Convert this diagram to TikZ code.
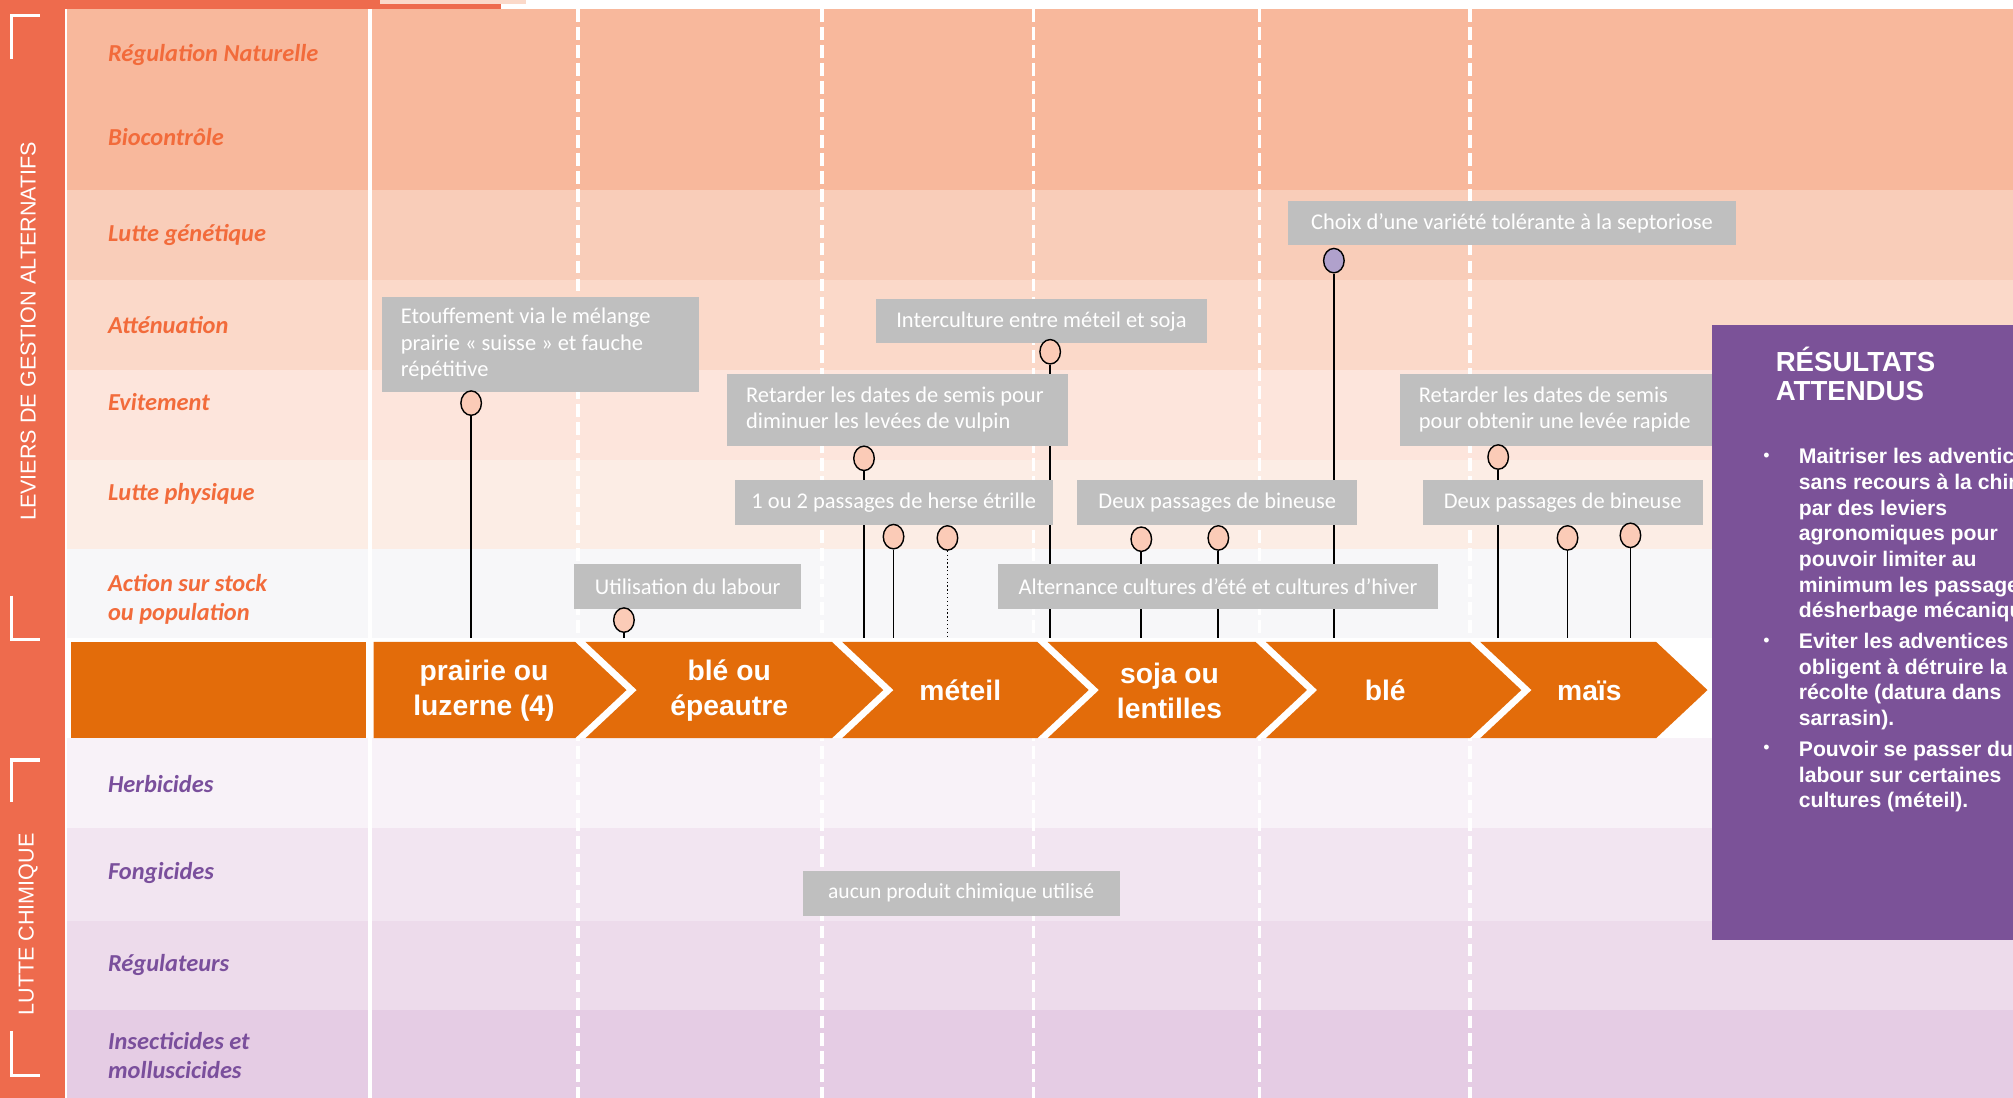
\documentclass[tikz,border=0pt]{standalone}
\usepackage{fontspec}
\setmainfont{Carlito}
\newfontfamily\arialfont{Liberation Sans}
\usetikzlibrary{shapes.geometric}

\definecolor{bandorange}{HTML}{EE6B4D}
\definecolor{chevorange}{HTML}{E36C0A}
\definecolor{labelorange}{HTML}{F26B3B}
\definecolor{labelpurple}{HTML}{7A4F9C}
\definecolor{respurple}{HTML}{7B5298}
\definecolor{boxgrey}{HTML}{BFBFBF}
\definecolor{pinpeach}{HTML}{FBCBB7}
\definecolor{pinlilac}{HTML}{B0A1CC}
\definecolor{rowA}{HTML}{F8B89C}
\definecolor{rowB}{HTML}{F9CDB9}
\definecolor{rowC}{HTML}{FBD9C9}
\definecolor{rowD}{HTML}{FDE5DC}
\definecolor{rowE}{HTML}{FCEDE5}
\definecolor{rowF}{HTML}{F7F7F9}
\definecolor{rowG}{HTML}{F8F2F8}
\definecolor{rowH}{HTML}{F2E5F1}
\definecolor{rowI}{HTML}{EDDBEB}
\definecolor{rowJ}{HTML}{E5CCE4}

\pgfdeclarelayer{back}
\pgfdeclarelayer{stems}
\pgfdeclarelayer{front}
\pgfsetlayers{back,stems,main,front}

\tikzset{
  rowlabel/.style={anchor=west, align=left, inner sep=0pt, font=\bfseries\itshape\fontsize{19}{23}\selectfont},
  sidelabel/.style={rotate=90, text=white, inner sep=0pt, font=\arialfont\fontsize{16.8}{18}\selectfont},
  bracket/.style={white, line width=2.5pt},
  sep/.style={white, line width=3pt},
  dsep/.style={white, line width=3pt, dash pattern=on 10pt off 4pt},
  chev/.style={fill=chevorange},
  croplabel/.style={text=white, align=center, inner sep=0pt, font=\arialfont\bfseries\fontsize{22}{27}\selectfont},
  greybox/.style={fill=boxgrey, text=white, anchor=north west, inner sep=0pt, font=\fontsize{17.5}{20.5}\selectfont},
  notebox/.style={greybox, inner xsep=15pt, align=flush left},
  pin/.style={ellipse, draw=black, line width=1.1pt, fill=pinpeach, minimum width=16pt, minimum height=19pt, inner sep=0pt},
  stem/.style={black, line width=1.4pt},
  restext/.style={text=white, anchor=north west, align=left, inner sep=0pt, font=\arialfont\bfseries\fontsize{16.5}{20}\selectfont},
}

\begin{document}
\begin{tikzpicture}[x=1pt, y=-1pt]
  \useasboundingbox (0,0) rectangle (1568,855);

  % Rows and columns
  \begin{pgfonlayer}{back}
    \foreach \ytop/\ybot/\col in {7/78/rowA, 78/148/rowA, 148/218/rowB, 218/288/rowC, 288/358/rowD, 358/428/rowE, 428/497/rowF, 575/645/rowG, 645/717/rowH, 717/787/rowI, 787/855/rowJ}
      \fill[\col] (52,\ytop) rectangle (1568,\ybot);
    \fill[bandorange] (0,0) rectangle (51,855);
    \fill[bandorange] (0,0) rectangle (390,7);
    \fill[rowC] (296,0) rectangle (410,3.5);
    \draw[sep] (288,7) -- (288,855);
    \foreach \x in {450,640,805,981,1145}
      \draw[dsep] (\x,7) -- (\x,855);
  \end{pgfonlayer}

  % Side labels and brackets
  \node[sidelabel] (leviers) at (22,258) {LEVIERS DE GESTION ALTERNATIFS};
  \node[sidelabel] (chimique) at (22,720) {LUTTE CHIMIQUE};
  \draw[bracket] (31,12) -- (9,12) -- (9,46);
  \draw[bracket] (9,464) -- (9,498) -- (31,498);
  \draw[bracket] (31,592) -- (9,592) -- (9,625);
  \draw[bracket] (9,803) -- (9,838) -- (31,838);

  % Row labels
  \foreach \y/\txt [count=\i] in {43/Régulation Naturelle, 107/Biocontrôle, 183/Lutte génétique, 253/Atténuation, 313/Evitement, 385/Lutte physique, 467/{Action sur stock\\ou population}}
    \node[rowlabel, text=labelorange] (lev\i) at (84,\y) {\txt};
  \foreach \y/\txt [count=\i] in {611/Herbicides, 680/Fongicides, 752/Régulateurs, 822/{Insecticides et\\molluscicides}}
    \node[rowlabel, text=labelpurple] (chim\i) at (84,\y) {\txt};

  % Crop sequence
  \fill[chev] (55,500) rectangle (285,575);
  \fill[chev] (291,500) -- (448,500) -- (488,537.5) -- (448,575) -- (291,575) -- cycle;
  \foreach \a/\b in {456/648, 656/808, 816/978, 986/1145, 1153/1290}
    \fill[chev] (\a,500) -- (\b,500) -- ({\b+40},537.5) -- (\b,575) -- (\a,575) -- ({\a+40},537.5) -- cycle;
  \foreach \x/\txt [count=\i] in {377/{prairie ou\\luzerne (4)}, 568/{blé ou\\épeautre}, 748/méteil, 911/{soja ou\\lentilles}, 1079/blé, 1238/maïs}
    \node[croplabel] (crop\i) at (\x,538) {\txt};
  \coordinate (base) at (0,497);

  % Levers
  \node[notebox, text width=217pt, minimum height=74pt] (etouf) at (297,231) {Etouffement via le mélange\\prairie « suisse » et fauche\\répétitive};
  \node[greybox, minimum width=258pt, minimum height=34pt] (interc) at (682,233) {Interculture entre méteil et soja};
  \node[notebox, text width=236pt, minimum height=56pt] (retard1) at (566,291) {Retarder les dates de semis pour\\diminuer les levées de vulpin};
  \node[greybox, minimum width=349pt, minimum height=35pt] (choix) at (1003,156) {Choix d’une variété tolérante à la septoriose};
  \node[notebox, text width=213pt, minimum height=56pt] (retard2) at (1090,291) {Retarder les dates de semis\\pour obtenir une levée rapide};
  \node[greybox, minimum width=248pt, minimum height=35pt] (herse) at (572,374) {1 ou 2 passages de herse étrille};
  \node[greybox, minimum width=218pt, minimum height=35pt] (bin1) at (839,374) {Deux passages de bineuse};
  \node[greybox, minimum width=218pt, minimum height=35pt] (bin2) at (1108,374) {Deux passages de bineuse};
  \node[greybox, minimum width=177pt, minimum height=35pt] (labour) at (447,439) {Utilisation du labour};
  \node[greybox, minimum width=343pt, minimum height=35pt] (altern) at (777,439) {Alternance cultures d’été et cultures d’hiver};
  \node[greybox, minimum width=247pt, minimum height=35pt, font=\fontsize{16.8}{20}\selectfont] (aucun) at (625,678) {aucun produit chimique utilisé};

  % Pins
  \begin{pgfonlayer}{front}
    \foreach \x/\y [count=\i] in {367/314, 486/483, 673/357, 696/418, 889/420, 949/419, 818/274, 1167/356, 1221/419, 1270/417}
      \node[pin] (pin\i) at (\x,\y) {};
    \node[pin] (pinherse) at (738,419) {};
    \node[pin, fill=pinlilac] (pinchoix) at (1039,203) {};
  \end{pgfonlayer}
  \begin{pgfonlayer}{stems}
    \foreach \i in {1,...,10}
      \draw[stem] (pin\i.south) -- (pin\i.south |- base);
    \draw[stem, line width=1pt, dotted] (pinherse.south) -- (pinherse.south |- base);
    \draw[stem] (pinchoix.south) -- (pinchoix.south |- base);
  \end{pgfonlayer}

  % Expected results
  \node[fill=respurple, anchor=north west, minimum width=250pt, minimum height=479pt, inner sep=0pt] (res) at (1333,253) {};
  \node[restext, font=\arialfont\bfseries\fontsize{21.5}{23}\selectfont] (reshead) at (1383,270) {RÉSULTATS\\ATTENDUS};
  \foreach \y/\txt [count=\i] in {349/{Maitriser les adventices\\sans recours à la chimie\\par des leviers\\agronomiques pour\\pouvoir limiter au\\minimum les passages de\\désherbage mécanique.}, 493/{Eviter les adventices qui\\obligent à détruire la\\récolte (datura dans\\sarrasin).}, 577/{Pouvoir se passer du\\labour sur certaines\\cultures (méteil).}} {
    \node[restext, anchor=center, font=\arialfont\fontsize{14}{14}\selectfont] (dot\i) at (1376,\y+7) {•};
    \node[restext] (res\i) at (1401,\y) {\txt};
  }
\end{tikzpicture}
\end{document}
